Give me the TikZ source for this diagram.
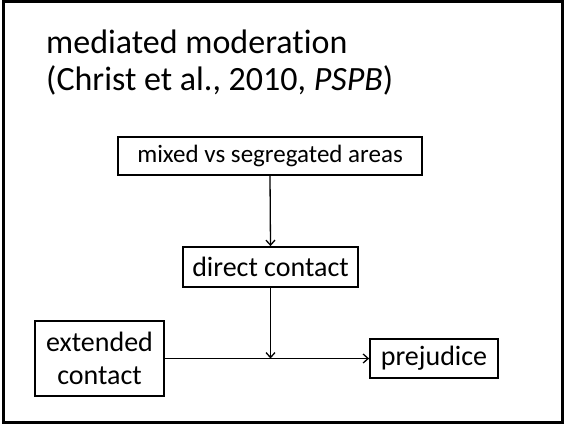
\documentclass[tikz,border=0pt]{standalone}
\usepackage{fontspec}
\setmainfont[Ligatures=NoCommon]{Carlito}
\usetikzlibrary{arrows.meta}
\begin{document}
\begin{tikzpicture}[x=1pt,y=-1pt,
  box/.style={draw=black,line width=1.8pt,rectangle,inner sep=0pt,font=\fontsize{28}{33}\selectfont,align=center},
  conn/.style={line width=1.3pt,-{Straight Barb[length=5pt,width=9pt,line width=1.3pt]}}]
\useasboundingbox (0,0) rectangle (564,424);
\draw[line width=3pt] (3.5,1.5) rectangle (562,422);
\node[anchor=base west,align=left,inner sep=0pt,font=\fontsize{34}{37}\selectfont] (title) at (46,90) {mediated moderation\\(Christ et al., 2010, \textit{PSPB})};
\node[box,minimum width=304pt,minimum height=38pt,font=\fontsize{25}{30}\selectfont] (mix) at (270,156) {mixed vs segregated areas};
\node[box,minimum width=175pt,minimum height=40pt] (dir) at (270.5,267) {direct contact};
\node[box,minimum width=129pt,minimum height=75pt] (ext) at (99.5,358.5) {extended\\contact};
\node[box,minimum width=128pt,minimum height=39pt] (prej) at (434,358.5) {prejudice};
\coordinate (mid) at (dir.south |- prej.west);
\draw[conn] (mix.south) -- (dir.north);
\draw[conn] (ext.east) -- (prej.west);
\draw[conn] (dir.south) -- (mid);
\end{tikzpicture}
\end{document}
